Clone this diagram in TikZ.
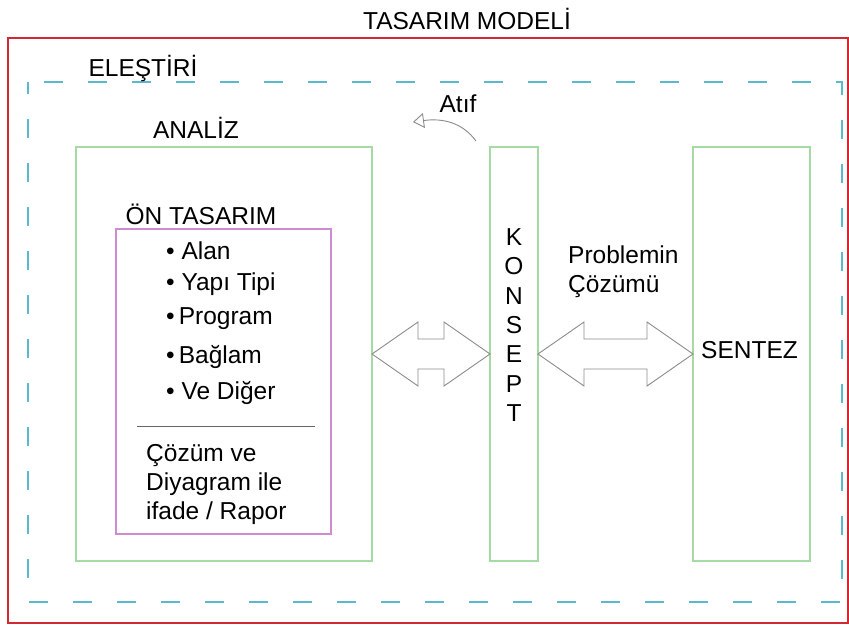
\documentclass[tikz,border=0pt]{standalone}
\usepackage{fontspec}
\setmainfont{Liberation Sans}
\usetikzlibrary{positioning, calc, arrows.meta}
\definecolor{frameRed}{RGB}{210,40,50}
\definecolor{dashCyan}{RGB}{90,185,205}
\definecolor{boxGreen}{RGB}{165,218,165}
\definecolor{boxPink}{RGB}{205,140,210}
\definecolor{arrowGray}{RGB}{140,140,140}
\tikzset{txt/.style = {inner sep=0pt, font=\fontsize{24.5}{29}\selectfont},
         greenbox/.style = {draw=boxGreen, line width=1.2pt, inner sep=0pt, outer sep=0pt},
         pinkbox/.style = {draw=boxPink, line width=1.2pt, inner sep=0pt, outer sep=0pt},
         blockarrow/.style = {draw=arrowGray, line width=0.9pt, line join=miter}}
\newcommand{\dblarrow}[2]{%
  \draw[blockarrow] (#1) -- ++(46,-32) -- ++(0,17) -- ($(#2)+(-46,-15)$) -- ++(0,-17)
    -- (#2) -- ++(-46,32) -- ++(0,-17) -- ($(#1)+(46,15)$) -- ++(0,17) -- cycle;}

\begin{document}
\begin{tikzpicture}[x=1pt, y=-1pt]
                    \clip (0,0) rectangle (849,625);
                    \fill[white] (0,0) rectangle (849,625);
                    % frames
                    \draw[frameRed, line width=2pt] (8,38) rectangle (847.5,623);
                    \draw[dashCyan, line width=1.3pt, dash pattern=on 19pt off 25pt, dash phase=7pt] (28,82) rectangle (842,602);
                    \node[txt] (title) at (467,19) {TASARIM MODELİ};
                    \node[txt] (elestiri) at (143,68) {ELEŞTİRİ};
                    % boxes
                    \node[greenbox, minimum width=296, minimum height=414] (analiz) at (224,354) {};
                    \node[greenbox, minimum width=48, minimum height=414] (konsept) at (514,354) {};
                    \node[greenbox, minimum width=117, minimum height=414] (sentez) at (751.5,354) {};
                    \node[pinkbox, minimum width=215, minimum height=305] (ontasarim) at (223.5,381.5) {};
                    \node[txt] (analizlbl) at (196,128) {ANALİZ};
                    \node[txt] (onlbl) at (201,214) {ÖN TASARIM};
                    % list
                    \node[txt, anchor=west] (alan) at (166,251) {\textbullet\ Alan};
                    \node[txt, anchor=west] (yapi) at (166,284) {\textbullet\ Yapı Tipi};
                    \node[txt, anchor=west] (program) at (166,319) {\textbullet\,Program};
                    \node[txt, anchor=west] (baglam) at (166,357) {\textbullet\,Bağlam};
                    \node[txt, anchor=west] (diger) at (166,393) {\textbullet\ Ve Diğer};
                    \coordinate (sepL) at (137,426);
                    \coordinate (sepR) at (315,426);
                    \draw[black!60, line width=0.9pt] (sepL) -- (sepR);
                    \node[txt, anchor=west, align=left] (cozum) at (146,484) {Çözüm ve\\Diyagram ile\\ifade / Rapor};
                    % konsept and sentez texts
                    \node[txt, align=center, font=\fontsize{24.5}{29.3}\selectfont] (konseptlbl) at (konsept.center |- 0,325) {K\\O\\N\\S\\E\\P\\T};
                    \node[txt, anchor=west, align=left] (problem) at (568,272) {Problemin\\Çözümü};
                    \node[txt, anchor=west] (senteztxt) at (701,350) {SENTEZ};
                    % block arrows
                    \coordinate (a1) at (analiz.east |- 0,354);
                    \coordinate (a2) at (konsept.west |- 0,354);
                    \coordinate (b1) at (konsept.east |- 0,354);
                    \coordinate (b2) at (sentez.west |- 0,354);
                    \dblarrow{a1}{a2}
                    \dblarrow{b1}{b2}
                    % atif
                    \node[txt] (atif) at (458,104) {Atıf};
                    \coordinate (atifS) at (476,141);
                    \coordinate (atifE) at (413,122);
                    \draw[arrowGray, line width=0.9pt, -{Triangle[open, length=11pt, width=15pt]}] (atifS) .. controls (462,122) and (442,118) .. (atifE);
                \end{tikzpicture}
\end{document}
